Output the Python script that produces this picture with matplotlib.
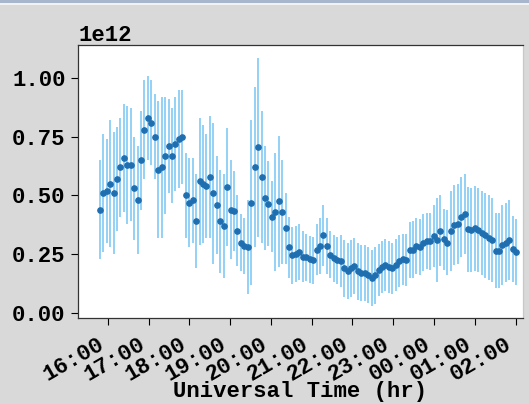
import numpy as np
import matplotlib
matplotlib.use("Agg")
import matplotlib.pyplot as plt
import matplotlib.dates as mdates
from matplotlib.patches import Rectangle
import datetime as dt

# ---- data (values in units of 1e12) ----
start_time = dt.datetime(2020, 1, 1, 15, 48)
end_time = dt.datetime(2020, 1, 2, 2, 1)

values = [0.44, 0.51, 0.52, 0.55, 0.51, 0.57, 0.62, 0.66, 0.63, 0.63,
          0.53, 0.48, 0.65, 0.78, 0.83, 0.81, 0.75, 0.61, 0.62, 0.67,
          0.71, 0.67, 0.72, 0.74, 0.75, 0.50, 0.47, 0.48, 0.39, 0.56,
          0.55, 0.54, 0.58, 0.51, 0.46, 0.39, 0.37, 0.535, 0.44, 0.435,
          0.35, 0.30, 0.285, 0.28, 0.47, 0.62, 0.705, 0.58, 0.49, 0.465,
          0.41, 0.43, 0.475, 0.43, 0.36, 0.28, 0.245, 0.25, 0.26, 0.24,
          0.237, 0.228, 0.225, 0.27, 0.285, 0.33, 0.285, 0.248, 0.233, 0.225,
          0.22, 0.19, 0.18, 0.19, 0.20, 0.177, 0.17, 0.17, 0.163, 0.15,
          0.16, 0.183, 0.197, 0.205, 0.197, 0.19, 0.205, 0.22, 0.228, 0.225,
          0.268, 0.27, 0.285, 0.28, 0.30, 0.307, 0.305, 0.328, 0.31, 0.35,
          0.313, 0.30, 0.348, 0.373, 0.38, 0.41, 0.42, 0.356, 0.353, 0.36,
          0.353, 0.34, 0.33, 0.32, 0.31, 0.265, 0.265, 0.29, 0.30, 0.31,
          0.274, 0.26]

errors = [0.21, 0.25, 0.22, 0.27, 0.26, 0.22, 0.21, 0.23, 0.25, 0.24,
          0.22, 0.23, 0.21, 0.21, 0.18, 0.18, 0.18, 0.29, 0.30, 0.25,
          0.20, 0.20, 0.20, 0.21, 0.20, 0.18, 0.19, 0.18, 0.20, 0.27,
          0.25, 0.22, 0.26, 0.30, 0.21, 0.22, 0.22, 0.25, 0.21, 0.17,
          0.15, 0.12, 0.12, 0.20, 0.35, 0.34, 0.38, 0.28, 0.22, 0.18,
          0.15, 0.25, 0.28, 0.22, 0.15, 0.13, 0.12, 0.12, 0.12, 0.11,
          0.10, 0.10, 0.10, 0.11, 0.12, 0.13, 0.12, 0.10, 0.10, 0.10,
          0.11, 0.12, 0.12, 0.12, 0.12, 0.12, 0.12, 0.12, 0.12, 0.12,
          0.12, 0.11, 0.11, 0.11, 0.11, 0.11, 0.11, 0.11, 0.11, 0.11,
          0.12, 0.12, 0.12, 0.12, 0.12, 0.12, 0.12, 0.13, 0.18, 0.15,
          0.13, 0.14, 0.17, 0.17, 0.17, 0.17, 0.17, 0.18, 0.18, 0.18,
          0.18, 0.18, 0.18, 0.18, 0.18, 0.16, 0.16, 0.17, 0.17, 0.17,
          0.14, 0.14]

xlabel = "Universal Time (hr)"

# ---- build ----
n = len(values)
t0 = mdates.date2num(start_time)
t1 = mdates.date2num(end_time)
times = mdates.num2date(np.linspace(t0, t1, n))
vals = np.array(values) * 1e12
errs = np.array(errors) * 1e12

bg = "#d9d9d9"
fig = plt.figure(figsize=(5.29, 4.04), dpi=100, facecolor=bg)
# window title strip at top
fig.patches.append(Rectangle((0, 1 - 3 / 404), 1, 3 / 404, transform=fig.transFigure,
                             facecolor="#a7b6cc", edgecolor="none", zorder=0))
fig.patches.append(Rectangle((0, 1 - 5 / 404), 1, 2 / 404, transform=fig.transFigure,
                             facecolor="#f2f2f2", edgecolor="none", zorder=0))

ax = fig.add_axes([78 / 529, 1 - 318 / 404, (523 - 78) / 529, (318 - 45) / 404])
ax.set_facecolor("white")

ax.errorbar(times, vals, yerr=errs, fmt="o", color="#1f6fb0", ms=3.8,
            ecolor="#80caf4", elinewidth=1.2, capsize=0, zorder=3)

fam = ["Liberation Mono", "DejaVu Sans Mono"]
fs = 16

ax.set_xlim(mdates.date2num(dt.datetime(2020, 1, 1, 15, 16)),
            mdates.date2num(dt.datetime(2020, 1, 2, 2, 11)))
ax.set_ylim(-0.021e12, 1.14e12)
ax.set_yticks(np.arange(0, 1.01e12, 0.25e12))

ax.xaxis.set_major_locator(mdates.HourLocator())
ax.xaxis.set_major_formatter(mdates.DateFormatter("%H:%M"))

ax.tick_params(axis="both", length=5, width=0.8)
ax.tick_params(axis="y", pad=4)
ax.tick_params(axis="x", pad=6)

for lab in ax.get_yticklabels():
    lab.set_fontfamily(fam)
    lab.set_fontweight("bold")
    lab.set_fontsize(fs)
for lab in ax.get_xticklabels():
    lab.set_fontfamily(fam)
    lab.set_fontweight("bold")
    lab.set_fontsize(fs)
    lab.set_rotation(30)
    lab.set_ha("right")

off = ax.yaxis.get_offset_text()
off.set_fontfamily(fam)
off.set_fontweight("bold")
off.set_fontsize(fs)

ax.set_xlabel(xlabel, family=fam, weight="bold", fontsize=fs)
ax.xaxis.set_label_coords(0.5, -0.232)

for s in ax.spines.values():
    s.set_linewidth(0.9)
    s.set_color("#333333")
ax.spines["right"].set_color("#c8c8c8")

fig.savefig("out.png", dpi=100, facecolor=bg)
